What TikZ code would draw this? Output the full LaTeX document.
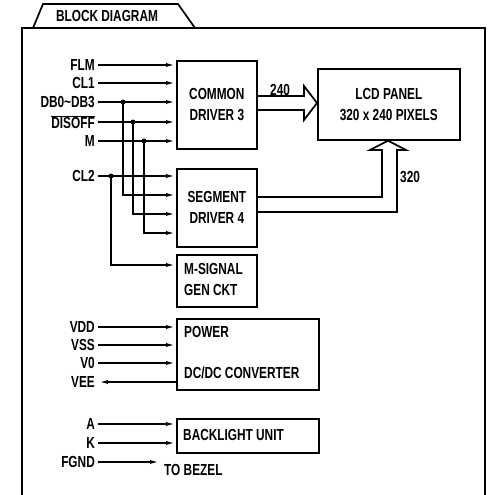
\documentclass[tikz,border=0pt]{standalone}
\usepackage{fontspec}
\setmainfont[FakeStretch=0.74, UprightFont=*-Bold]{Liberation Sans}
\usetikzlibrary{arrows.meta}
\begin{document}
\begin{tikzpicture}[x=1pt,y=-1pt,
  every node/.style={font=\fontsize{16}{21}\selectfont, inner sep=0pt},
  ln/.style={line width=1.7pt},
  box/.style={draw, line width=1.7pt, anchor=north west},
  sig/.style={line width=1.7pt, -{Latex[length=10pt,width=4pt]}},
  lbl/.style={anchor=east},
  dot/.style={circle, fill, minimum size=5pt, inner sep=0pt}]
\useasboundingbox (0,0) rectangle (487,495);
% frame and tab
\draw[ln] (22,495) -- (22,28) -- (33,28) -- (43,4) -- (178,4) -- (195,28) -- (485,28) -- (485,495);
\draw[ln] (33,28) -- (195,28);
\node (title) at (107,16) {BLOCK DIAGRAM};
% boxes
\node[box, minimum width=80pt, minimum height=88pt, align=center] (com) at (176,60) {COMMON\\DRIVER 3};
\node[box, minimum width=80pt, minimum height=78pt, align=center] (seg) at (176,168) {SEGMENT\\DRIVER 4};
\node[box, minimum width=80pt, minimum height=52pt] (msig) at (176,254) {};
\node[anchor=west, align=left] (msigt) at (184,279) {M-SIGNAL\\GEN CKT};
\node[box, minimum width=142pt, minimum height=71pt] (pwr) at (176,318) {};
\node[anchor=west] (pwrt1) at (184,332) {POWER};
\node[anchor=west] (pwrt2) at (184,373) {DC/DC CONVERTER};
\node[box, minimum width=142pt, minimum height=34pt] (bl) at (176,418) {};
\node[anchor=west] (blt) at (183,435) {BACKLIGHT UNIT};
\node[box, minimum width=142pt, minimum height=71pt, align=center] (lcd) at (317,68) {LCD PANEL\\320 x 240 PIXELS};
% input labels
\node[lbl] (lflm) at (95,65) {FLM};
\node[lbl] (lcl1) at (95,83) {CL1};
\node[lbl] (ldb) at (95,102) {DB0\textasciitilde DB3};
\node[lbl] (ldis) at (95,122) {$\overline{\mbox{DISOFF}}$};
\node[lbl] (lm) at (95,141) {M};
\node[lbl] (lcl2) at (95,176) {CL2};
\node[lbl] (lvdd) at (95,327) {VDD};
\node[lbl] (lvss) at (95,345) {VSS};
\node[lbl] (lv0) at (95,363) {V0};
\node[lbl] (lvee) at (95,382) {VEE};
\node[lbl] (la) at (95,424) {A};
\node[lbl] (lk) at (95,443) {K};
\node[lbl] (lfgnd) at (95,462) {FGND};
\node[anchor=west] (bezel) at (164,470) {TO BEZEL};
% signals to common driver
\foreach \l in {lflm,lcl1,ldb,ldis,lm}
  \draw[sig] ([xshift=3pt]\l.east) -- (\l.east -| com.west);
% signals to segment driver
\draw[sig] ([xshift=3pt]lcl2.east) -- (lcl2.east -| seg.west);
\coordinate (jdb) at (123,102);
\coordinate (jdis) at (133,122);
\coordinate (jm) at (144,141);
\coordinate (jcl2) at (111,176);
\node[dot] (ddb) at (jdb) {};
\node[dot] (ddis) at (jdis) {};
\node[dot] (dm) at (jm) {};
\node[dot] (dcl2) at (jcl2) {};
\draw[sig] (ddb.center) |- (seg.west |- 0,195);
\draw[sig] (ddis.center) |- (seg.west |- 0,214);
\draw[sig] (dm.center) |- (seg.west |- 0,233);
\draw[sig] (dcl2.center) |- (msig.west |- 0,265);
% power
\draw[sig] ([xshift=3pt]lvdd.east) -- (lvdd.east -| pwr.west);
\draw[sig] ([xshift=3pt]lvss.east) -- (lvss.east -| pwr.west);
\draw[sig] ([xshift=3pt]lv0.east) -- (lv0.east -| pwr.west);
\draw[sig] (lvee.east -| pwr.west) -- ([xshift=3pt]lvee.east);
% backlight
\draw[sig] ([xshift=3pt]la.east) -- (la.east -| bl.west);
\draw[sig] ([xshift=3pt]lk.east) -- (lk.east -| bl.west);
\draw[sig] ([xshift=3pt]lfgnd.east) -- (160,462);
% bus 240
\draw[ln, line join=miter] (com.east |- 0,96) -- (304,96) -- (304,86) -- (lcd.west |- 0,103) -- (304,120) -- (304,110) -- (com.east |- 0,110);
\node[anchor=south west] (l240) at (270,96) {240};
% bus 320
\draw[ln, line join=miter] (seg.east |- 0,197) -- (382,197) -- (382,150) -- (370,150) -- (lcd.south -| 388,0) -- (406,150) -- (397,150) -- (397,212) -- (seg.east |- 0,212);
\node[anchor=west] (l320) at (400,177) {320};
\end{tikzpicture}
\end{document}
